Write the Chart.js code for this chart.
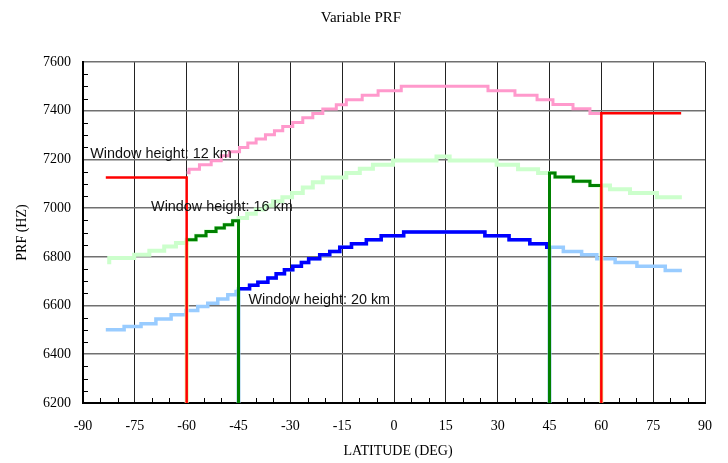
<!DOCTYPE html>
<html>
<head>
<meta charset="utf-8">
<script src="https://cdn.jsdelivr.net/npm/chart.js@4"></script>
<style>
  html, body { margin: 0; padding: 0; background: #fff; }
</style>
</head>
<body>
<canvas id="chart" width="728" height="463"></canvas>
<script>
// PRF steps: latitude where each step starts (last entry = end), PRF value of that step
const lat12 = [-60, -59.3, -56.3, -52.9, -50.0, -47.6, -44.7, -42.3, -39.9, -37.2, -34.6, -32.2, -29.3, -26.4, -23.5, -20.6, -16.7, -13.8, -9.2, -4.6, 2.1, 27.2, 35.0, 41.4, 46.0, 51.8, 56.7, 60];
const prf12 = [7145, 7160, 7178, 7195, 7215, 7232, 7249, 7267, 7284, 7301, 7318, 7335, 7352, 7371, 7389, 7407, 7425, 7445, 7464, 7482, 7500, 7482, 7464, 7445, 7426, 7408, 7389, 7389];

const lat16 = [-83.0, -82.4, -75.2, -70.8, -66.5, -63.1, -60.0, -57.3, -54.4, -51.5, -49.1, -46.7, -45.0, -42.5, -40.0, -37.5, -35.0, -32.3, -29.5, -26.4, -23.5, -20.6, -13.8, -9.9, -6.1, -0.3, 12.3, 16.1, 29.7, 35.9, 41.7, 46.6, 51.9, 56.7, 62.5, 68.3, 76.1, 83.3];
const prf16 = [6778, 6795, 6809, 6825, 6843, 6857, 6870, 6887, 6904, 6918, 6932, 6948, 6960, 6977, 6994, 7011, 7028, 7045, 7062, 7085, 7106, 7126, 7144, 7162, 7178, 7196, 7212, 7196, 7178, 7160, 7144, 7128, 7110, 7093, 7078, 7062, 7045, 7045];

const lat20 = [-83.4, -78.1, -73.2, -68.9, -64.5, -60.2, -56.8, -53.9, -51.0, -48.1, -45.7, -45.0, -41.8, -39.4, -36.5, -34.1, -31.7, -29.3, -26.8, -24.7, -21.5, -18.6, -15.7, -12.3, -8.0, -3.7, 2.8, 26.3, 33.3, 39.3, 44.2, 49.0, 54.3, 58.7, 64.0, 70.3, 78.5, 83.3];
const prf20 = [6501, 6514, 6525, 6545, 6562, 6580, 6596, 6610, 6627, 6644, 6658, 6669, 6683, 6696, 6713, 6731, 6747, 6761, 6777, 6792, 6809, 6822, 6839, 6854, 6870, 6887, 6902, 6887, 6870, 6854, 6839, 6822, 6809, 6792, 6777, 6761, 6744, 6744];

// 12 km window used poleward of 60 deg
const red12LeftLat = [-83.4, -60, -60];
const red12LeftPrf = [7126, 7126, 6200];
const red12RightLat = [60, 60, 83.1];
const red12RightPrf = [6200, 7390, 7390];

// latitude bands where each window height is selected
const band16 = [-60, -45, 45, 60];
const band20 = [-45, 45];

const labelText = ['Window height: 12 km', 'Window height: 16 km', 'Window height: 20 km'];
const labelLat = [-87.9, -70.3, -42.1];
const labelPrf = [7223, 7006, 6624];

const chartTitle = 'Variable PRF';
const xTitle = 'LATITUDE (DEG)';
const yTitle = 'PRF (HZ)';

const xMin = -90, xMax = 90, xStep = 15, xMinor = 5;
const yMin = 6200, yMax = 7600, yStep = 200, yMinor = 50;

function pts(lats, vals) {
  return lats.map((x, i) => ({x: x, y: vals[i]}));
}
function valueAt(lats, vals, x) {
  let v = vals[0];
  lats.forEach((l, i) => { if (l <= x) v = vals[i]; });
  return v;
}
function band(lats, vals, lo, hi) {
  const p = [{x: lo, y: valueAt(lats, vals, lo)}];
  lats.forEach((l, i) => { if (l > lo && l < hi) p.push({x: l, y: vals[i]}); });
  p.push({x: hi, y: p[p.length - 1].y});
  return p;
}

const serif = 'Liberation Serif';

function line(data, color, width, order) {
  // stepped 'before': hold the previous value, then jump at the next latitude
  return {
    data: data, borderColor: color, borderWidth: width, stepped: 'before',
    pointRadius: 0, fill: false, order: order
  };
}

const datasets = [
  // pale curves
  line(pts(lat12, prf12), '#ff99cc', 3, 3),
  line(pts(lat16, prf16), '#ccffcc', 4, 3),
  line(pts(lat20, prf20), '#99ccff', 3.5, 3),
  // halos along the boundaries
  line([{x: band16[0], y: yMin}, {x: band16[0], y: valueAt(lat16, prf16, band16[0])}], '#e4f2a8', 4, 2),
  line([{x: band16[3], y: yMin}, {x: band16[3], y: valueAt(lat16, prf16, band16[3])}], '#e4f2a8', 4, 2),
  line([{x: band20[0], y: yMin}, {x: band20[0], y: valueAt(lat20, prf20, band20[0])}], '#9cc8ea', 4, 2),
  line([{x: band20[1], y: yMin}, {x: band20[1], y: valueAt(lat20, prf20, band20[1])}], '#9cc8ea', 4, 2),
  // selected window heights
  line(pts(red12LeftLat, red12LeftPrf), '#ff0000', 2.5, 1),
  line(pts(red12RightLat, red12RightPrf), '#ff0000', 2.5, 1),
  line(band(lat16, prf16, band16[0], band16[1]).concat([{x: band16[1], y: yMin}]), '#008000', 3, 1),
  line([{x: band16[2], y: yMin}].concat(band(lat16, prf16, band16[2], band16[3])), '#008000', 3, 1),
  line(band(lat20, prf20, band20[0], band20[1]), '#0000ff', 3.5, 1)
];

const extras = {
  id: 'extras',
  afterDatasetsDraw(chart) {
    const ctx = chart.ctx, xs = chart.scales.x, ys = chart.scales.y;
    const a = chart.chartArea;
    ctx.save();
    // minor ticks inside the axes
    ctx.strokeStyle = '#000';
    ctx.lineWidth = 1;
    ctx.beginPath();
    for (let v = xMin; v <= xMax; v += xMinor) {
      if (v % xStep === 0) continue;
      const px = Math.round(xs.getPixelForValue(v)) + 0.5;
      ctx.moveTo(px, a.bottom); ctx.lineTo(px, a.bottom - 5);
    }
    for (let v = yMin; v <= yMax; v += yMinor) {
      if (v % yStep === 0) continue;
      const py = Math.round(ys.getPixelForValue(v)) + 0.5;
      ctx.moveTo(a.left, py); ctx.lineTo(a.left + 5, py);
    }
    ctx.stroke();

    ctx.fillStyle = '#111';
    ctx.font = '14.4px "Liberation Sans"';
    ctx.textAlign = 'left';
    ctx.textBaseline = 'middle';
    labelText.forEach((t, i) => {
      ctx.fillText(t, xs.getPixelForValue(labelLat[i]), ys.getPixelForValue(labelPrf[i]));
    });

    // titles
    ctx.fillStyle = '#000';
    ctx.textAlign = 'center';
    ctx.font = '15px "' + serif + '"';
    ctx.fillText(chartTitle, 361, 18);
    ctx.font = '14px "' + serif + '"';
    ctx.fillText(xTitle, (a.left + a.right) / 2 + 4, 451);
    ctx.translate(22, (a.top + a.bottom) / 2);
    ctx.rotate(-Math.PI / 2);
    ctx.fillText(yTitle, 0, 0);
    ctx.restore();
  }
};

new Chart(document.getElementById('chart'), {
  type: 'line',
  data: { datasets: datasets },
  options: {
    responsive: false,
    animation: false,
    devicePixelRatio: 1,
    layout: { padding: { left: 0, right: 23, top: 62, bottom: 0 } },
    plugins: {
      legend: { display: false },
      tooltip: { enabled: false },
      title: { display: false }
    },
    scales: {
      x: {
        type: 'linear', min: xMin, max: xMax,
        ticks: { stepSize: xStep, color: '#000', padding: 15, font: { family: serif, size: 14 },
                 callback: v => String(v) },
        grid: { color: '#222', lineWidth: 1, drawTicks: false },
        border: { color: '#000', width: 2 },
        afterFit(scale) { scale.height = 60; }
      },
      y: {
        min: yMin, max: yMax,
        ticks: { stepSize: yStep, color: '#000', padding: 12, font: { family: serif, size: 14 },
                 callback: v => String(v) },
        grid: { color: '#707070', lineWidth: 1.6, drawTicks: false },
        border: { color: '#000', width: 2 },
        afterFit(scale) { scale.width = 83; }
      }
    }
  },
  plugins: [extras]
});
</script>
</body>
</html>
